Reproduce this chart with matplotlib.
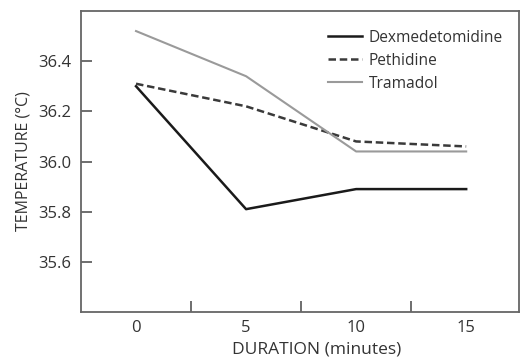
import matplotlib.pyplot as plt

plt.rcParams['font.family'] = ['Open Sans', 'DejaVu Sans']

minutes = [0, 5, 10, 15]
dexmedetomidine = [36.30, 35.81, 35.89, 35.89]
pethidine = [36.31, 36.22, 36.08, 36.06]
tramadol = [36.52, 36.34, 36.04, 36.04]

fig = plt.figure(figsize=(5.2, 3.58), dpi=100)
ax = fig.add_axes([81/520, 1 - 312/358, (519 - 81)/520, (312 - 11)/358])

ax.plot(minutes, dexmedetomidine, color='#1a1a1a', lw=1.8, label='Dexmedetomidine')
ax.plot(minutes, pethidine, color='#3a3a3a', lw=1.8, ls=(0, (3, 1.5)), label='Pethidine')
ax.plot(minutes, tramadol, color='#9a9a9a', lw=1.5, label='Tramadol')

ax.set_xlim(-2.5, 17.4)
ax.set_ylim(35.4, 36.6)
ax.set_yticks([35.6, 35.8, 36.0, 36.2, 36.4])
ax.set_yticklabels(['35.6', '35.8', '36.0', '36.2', '36.4'])
ax.set_xticks([2.5, 7.5, 12.5])
ax.set_xticklabels([])
for x in minutes:
    ax.text(x, 35.4 - 0.03, str(x), ha='center', va='top', fontsize=12, color='#333333')

ax.tick_params(axis='both', direction='in', length=8, width=1.2, color='#555555',
               labelsize=12, labelcolor='#333333')
ax.tick_params(axis='y', pad=7)
for s in ax.spines.values():
    s.set_color('#666666')
    s.set_linewidth(1.3)

ax.set_xlabel('DURATION (minutes)', fontsize=12.5, color='#333333')
ax.xaxis.set_label_coords((317 - 81) / 438, -(350 - 312) / 301, transform=ax.transAxes)
ax.xaxis.label.set_va('center')
ax.set_ylabel('TEMPERATURE (°C)', fontsize=11.5, color='#333333', labelpad=5)

leg = ax.legend(loc='upper right', frameon=False, fontsize=11.2, handlelength=2.2,
                handletextpad=0.4, labelspacing=0.45, bbox_to_anchor=(0.995, 0.985))
for t in leg.get_texts():
    t.set_color('#333333')

fig.savefig('out.png', dpi=100)
